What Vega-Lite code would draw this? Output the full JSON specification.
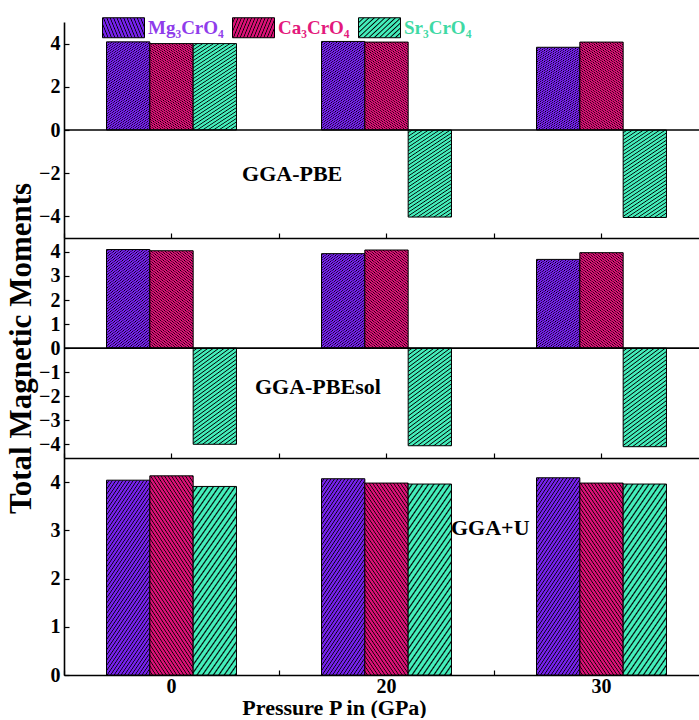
{
  "$schema": "https://vega.github.io/schema/vega-lite/v6.json",
  "background": "white",
  "padding": {"left": 5, "top": 6, "right": 0, "bottom": 0},
  "spacing": 0,
  "bounds": "flush",
  "config": {
    "font": "Liberation Serif",
    "view": {"stroke": null},
    "axis": {
      "grid": false,
      "labelFont": "Liberation Serif",
      "labelFontWeight": "bold",
      "labelFontSize": 20,
      "labelColor": "black",
      "labelOverlap": false,
      "titleFont": "Liberation Serif",
      "titleFontWeight": "bold",
      "titleColor": "black",
      "domainColor": "black",
      "domainWidth": 1.6,
      "tickColor": "black",
      "tickWidth": 1.2,
      "tickSize": -5
    }
  },
  "datasets": {
    "moments": [
      {"method": "GGA-PBE", "pressure": "0", "compound": "Mg3CrO4", "value": 4.08},
      {"method": "GGA-PBE", "pressure": "0", "compound": "Ca3CrO4", "value": 4.0},
      {"method": "GGA-PBE", "pressure": "0", "compound": "Sr3CrO4", "value": 4.0},
      {"method": "GGA-PBE", "pressure": "20", "compound": "Mg3CrO4", "value": 4.1},
      {"method": "GGA-PBE", "pressure": "20", "compound": "Ca3CrO4", "value": 4.07},
      {"method": "GGA-PBE", "pressure": "20", "compound": "Sr3CrO4", "value": -4.03},
      {"method": "GGA-PBE", "pressure": "30", "compound": "Mg3CrO4", "value": 3.83},
      {"method": "GGA-PBE", "pressure": "30", "compound": "Ca3CrO4", "value": 4.07},
      {"method": "GGA-PBE", "pressure": "30", "compound": "Sr3CrO4", "value": -4.05},
      {"method": "GGA-PBEsol", "pressure": "0", "compound": "Mg3CrO4", "value": 4.1},
      {"method": "GGA-PBEsol", "pressure": "0", "compound": "Ca3CrO4", "value": 4.05},
      {"method": "GGA-PBEsol", "pressure": "0", "compound": "Sr3CrO4", "value": -4.0},
      {"method": "GGA-PBEsol", "pressure": "20", "compound": "Mg3CrO4", "value": 3.93},
      {"method": "GGA-PBEsol", "pressure": "20", "compound": "Ca3CrO4", "value": 4.08},
      {"method": "GGA-PBEsol", "pressure": "20", "compound": "Sr3CrO4", "value": -4.06},
      {"method": "GGA-PBEsol", "pressure": "30", "compound": "Mg3CrO4", "value": 3.69},
      {"method": "GGA-PBEsol", "pressure": "30", "compound": "Ca3CrO4", "value": 3.97},
      {"method": "GGA-PBEsol", "pressure": "30", "compound": "Sr3CrO4", "value": -4.1},
      {"method": "GGA+U", "pressure": "0", "compound": "Mg3CrO4", "value": 4.04},
      {"method": "GGA+U", "pressure": "0", "compound": "Ca3CrO4", "value": 4.13},
      {"method": "GGA+U", "pressure": "0", "compound": "Sr3CrO4", "value": 3.91},
      {"method": "GGA+U", "pressure": "20", "compound": "Mg3CrO4", "value": 4.07},
      {"method": "GGA+U", "pressure": "20", "compound": "Ca3CrO4", "value": 3.98},
      {"method": "GGA+U", "pressure": "20", "compound": "Sr3CrO4", "value": 3.96},
      {"method": "GGA+U", "pressure": "30", "compound": "Mg3CrO4", "value": 4.09},
      {"method": "GGA+U", "pressure": "30", "compound": "Ca3CrO4", "value": 3.98},
      {"method": "GGA+U", "pressure": "30", "compound": "Sr3CrO4", "value": 3.96}
    ]
  },
  "vconcat": [
    {
      "width": 645,
      "height": 216,
      "layer": [
        {
          "data": {"name": "moments"},
          "transform": [{"filter": "datum.method === 'GGA-PBE'"}],
          "mark": {"type": "bar", "stroke": "black", "strokeWidth": 1},
          "encoding": {
            "x": {"field": "pressure", "type": "nominal", "scale": {"domain": ["0", "20", "30"], "paddingInner": 0, "paddingOuter": 0}, "axis": {"labels": false, "title": null, "domain": true}},
            "xOffset": {"field": "compound", "type": "nominal", "scale": {"domain": ["Mg3CrO4", "Ca3CrO4", "Sr3CrO4"], "paddingInner": 0, "paddingOuter": 0.981}},
            "y": {"field": "value", "type": "quantitative", "scale": {"domain": [-5, 5], "nice": false}, "axis": {"values": [-4, -2, 0, 2, 4], "title": null, "labelPadding": 9, "labelOverlap": false}},
            "fill": {
              "field": "compound",
              "type": "nominal",
              "scale": {
                "domain": ["Mg3CrO4", "Ca3CrO4", "Sr3CrO4"],
                "range": [
                  {"expr": "{gradient:'linear',x1:0,y1:0,x2:0.3968,y2:1.1995,stops:[{offset:0,color:'#72e'},{offset:0.01,color:'#72e'},{offset:0.015,color:'#000'},{offset:0.02,color:'#72e'},{offset:0.03,color:'#72e'},{offset:0.035,color:'#000'},{offset:0.04,color:'#72e'},{offset:0.05,color:'#72e'},{offset:0.055,color:'#000'},{offset:0.06,color:'#72e'},{offset:0.07,color:'#72e'},{offset:0.075,color:'#000'},{offset:0.08,color:'#72e'},{offset:0.09,color:'#72e'},{offset:0.095,color:'#000'},{offset:0.1,color:'#72e'},{offset:0.11,color:'#72e'},{offset:0.115,color:'#000'},{offset:0.12,color:'#72e'},{offset:0.13,color:'#72e'},{offset:0.135,color:'#000'},{offset:0.14,color:'#72e'},{offset:0.15,color:'#72e'},{offset:0.155,color:'#000'},{offset:0.16,color:'#72e'},{offset:0.17,color:'#72e'},{offset:0.175,color:'#000'},{offset:0.18,color:'#72e'},{offset:0.19,color:'#72e'},{offset:0.195,color:'#000'},{offset:0.2,color:'#72e'},{offset:0.21,color:'#72e'},{offset:0.215,color:'#000'},{offset:0.22,color:'#72e'},{offset:0.23,color:'#72e'},{offset:0.235,color:'#000'},{offset:0.24,color:'#72e'},{offset:0.25,color:'#72e'},{offset:0.255,color:'#000'},{offset:0.26,color:'#72e'},{offset:0.27,color:'#72e'},{offset:0.275,color:'#000'},{offset:0.28,color:'#72e'},{offset:0.29,color:'#72e'},{offset:0.295,color:'#000'},{offset:0.3,color:'#72e'},{offset:0.31,color:'#72e'},{offset:0.315,color:'#000'},{offset:0.32,color:'#72e'},{offset:0.33,color:'#72e'},{offset:0.335,color:'#000'},{offset:0.34,color:'#72e'},{offset:0.35,color:'#72e'},{offset:0.355,color:'#000'},{offset:0.36,color:'#72e'},{offset:0.37,color:'#72e'},{offset:0.375,color:'#000'},{offset:0.38,color:'#72e'},{offset:0.39,color:'#72e'},{offset:0.395,color:'#000'},{offset:0.4,color:'#72e'},{offset:0.41,color:'#72e'},{offset:0.415,color:'#000'},{offset:0.42,color:'#72e'},{offset:0.43,color:'#72e'},{offset:0.435,color:'#000'},{offset:0.44,color:'#72e'},{offset:0.45,color:'#72e'},{offset:0.455,color:'#000'},{offset:0.46,color:'#72e'},{offset:0.47,color:'#72e'},{offset:0.475,color:'#000'},{offset:0.48,color:'#72e'},{offset:0.49,color:'#72e'},{offset:0.495,color:'#000'},{offset:0.5,color:'#72e'},{offset:0.51,color:'#72e'},{offset:0.515,color:'#000'},{offset:0.52,color:'#72e'},{offset:0.53,color:'#72e'},{offset:0.535,color:'#000'},{offset:0.54,color:'#72e'},{offset:0.55,color:'#72e'},{offset:0.555,color:'#000'},{offset:0.56,color:'#72e'},{offset:0.57,color:'#72e'},{offset:0.575,color:'#000'},{offset:0.58,color:'#72e'},{offset:0.59,color:'#72e'},{offset:0.595,color:'#000'},{offset:0.6,color:'#72e'},{offset:0.61,color:'#72e'},{offset:0.615,color:'#000'},{offset:0.62,color:'#72e'},{offset:0.63,color:'#72e'},{offset:0.635,color:'#000'},{offset:0.64,color:'#72e'},{offset:0.65,color:'#72e'},{offset:0.655,color:'#000'},{offset:0.66,color:'#72e'},{offset:0.67,color:'#72e'},{offset:0.675,color:'#000'},{offset:0.68,color:'#72e'},{offset:0.69,color:'#72e'},{offset:0.695,color:'#000'},{offset:0.7,color:'#72e'},{offset:0.71,color:'#72e'},{offset:0.715,color:'#000'},{offset:0.72,color:'#72e'},{offset:0.73,color:'#72e'},{offset:0.735,color:'#000'},{offset:0.74,color:'#72e'},{offset:0.75,color:'#72e'},{offset:0.755,color:'#000'},{offset:0.76,color:'#72e'},{offset:0.77,color:'#72e'},{offset:0.775,color:'#000'},{offset:0.78,color:'#72e'},{offset:0.79,color:'#72e'},{offset:0.795,color:'#000'},{offset:0.8,color:'#72e'},{offset:0.81,color:'#72e'},{offset:0.815,color:'#000'},{offset:0.82,color:'#72e'},{offset:0.83,color:'#72e'},{offset:0.835,color:'#000'},{offset:0.84,color:'#72e'},{offset:0.85,color:'#72e'},{offset:0.855,color:'#000'},{offset:0.86,color:'#72e'},{offset:0.87,color:'#72e'},{offset:0.875,color:'#000'},{offset:0.88,color:'#72e'},{offset:0.89,color:'#72e'},{offset:0.895,color:'#000'},{offset:0.9,color:'#72e'},{offset:0.91,color:'#72e'},{offset:0.915,color:'#000'},{offset:0.92,color:'#72e'},{offset:0.93,color:'#72e'},{offset:0.935,color:'#000'},{offset:0.94,color:'#72e'},{offset:0.95,color:'#72e'},{offset:0.955,color:'#000'},{offset:0.96,color:'#72e'},{offset:0.97,color:'#72e'},{offset:0.975,color:'#000'},{offset:0.98,color:'#72e'},{offset:0.99,color:'#72e'},{offset:0.995,color:'#000'},{offset:1,color:'#72e'}]}"},
                  {"expr": "{gradient:'linear',x1:0,y1:1,x2:0.3968,y2:-0.1995,stops:[{offset:0,color:'#d17'},{offset:0.01,color:'#d17'},{offset:0.015,color:'#000'},{offset:0.02,color:'#d17'},{offset:0.03,color:'#d17'},{offset:0.035,color:'#000'},{offset:0.04,color:'#d17'},{offset:0.05,color:'#d17'},{offset:0.055,color:'#000'},{offset:0.06,color:'#d17'},{offset:0.07,color:'#d17'},{offset:0.075,color:'#000'},{offset:0.08,color:'#d17'},{offset:0.09,color:'#d17'},{offset:0.095,color:'#000'},{offset:0.1,color:'#d17'},{offset:0.11,color:'#d17'},{offset:0.115,color:'#000'},{offset:0.12,color:'#d17'},{offset:0.13,color:'#d17'},{offset:0.135,color:'#000'},{offset:0.14,color:'#d17'},{offset:0.15,color:'#d17'},{offset:0.155,color:'#000'},{offset:0.16,color:'#d17'},{offset:0.17,color:'#d17'},{offset:0.175,color:'#000'},{offset:0.18,color:'#d17'},{offset:0.19,color:'#d17'},{offset:0.195,color:'#000'},{offset:0.2,color:'#d17'},{offset:0.21,color:'#d17'},{offset:0.215,color:'#000'},{offset:0.22,color:'#d17'},{offset:0.23,color:'#d17'},{offset:0.235,color:'#000'},{offset:0.24,color:'#d17'},{offset:0.25,color:'#d17'},{offset:0.255,color:'#000'},{offset:0.26,color:'#d17'},{offset:0.27,color:'#d17'},{offset:0.275,color:'#000'},{offset:0.28,color:'#d17'},{offset:0.29,color:'#d17'},{offset:0.295,color:'#000'},{offset:0.3,color:'#d17'},{offset:0.31,color:'#d17'},{offset:0.315,color:'#000'},{offset:0.32,color:'#d17'},{offset:0.33,color:'#d17'},{offset:0.335,color:'#000'},{offset:0.34,color:'#d17'},{offset:0.35,color:'#d17'},{offset:0.355,color:'#000'},{offset:0.36,color:'#d17'},{offset:0.37,color:'#d17'},{offset:0.375,color:'#000'},{offset:0.38,color:'#d17'},{offset:0.39,color:'#d17'},{offset:0.395,color:'#000'},{offset:0.4,color:'#d17'},{offset:0.41,color:'#d17'},{offset:0.415,color:'#000'},{offset:0.42,color:'#d17'},{offset:0.43,color:'#d17'},{offset:0.435,color:'#000'},{offset:0.44,color:'#d17'},{offset:0.45,color:'#d17'},{offset:0.455,color:'#000'},{offset:0.46,color:'#d17'},{offset:0.47,color:'#d17'},{offset:0.475,color:'#000'},{offset:0.48,color:'#d17'},{offset:0.49,color:'#d17'},{offset:0.495,color:'#000'},{offset:0.5,color:'#d17'},{offset:0.51,color:'#d17'},{offset:0.515,color:'#000'},{offset:0.52,color:'#d17'},{offset:0.53,color:'#d17'},{offset:0.535,color:'#000'},{offset:0.54,color:'#d17'},{offset:0.55,color:'#d17'},{offset:0.555,color:'#000'},{offset:0.56,color:'#d17'},{offset:0.57,color:'#d17'},{offset:0.575,color:'#000'},{offset:0.58,color:'#d17'},{offset:0.59,color:'#d17'},{offset:0.595,color:'#000'},{offset:0.6,color:'#d17'},{offset:0.61,color:'#d17'},{offset:0.615,color:'#000'},{offset:0.62,color:'#d17'},{offset:0.63,color:'#d17'},{offset:0.635,color:'#000'},{offset:0.64,color:'#d17'},{offset:0.65,color:'#d17'},{offset:0.655,color:'#000'},{offset:0.66,color:'#d17'},{offset:0.67,color:'#d17'},{offset:0.675,color:'#000'},{offset:0.68,color:'#d17'},{offset:0.69,color:'#d17'},{offset:0.695,color:'#000'},{offset:0.7,color:'#d17'},{offset:0.71,color:'#d17'},{offset:0.715,color:'#000'},{offset:0.72,color:'#d17'},{offset:0.73,color:'#d17'},{offset:0.735,color:'#000'},{offset:0.74,color:'#d17'},{offset:0.75,color:'#d17'},{offset:0.755,color:'#000'},{offset:0.76,color:'#d17'},{offset:0.77,color:'#d17'},{offset:0.775,color:'#000'},{offset:0.78,color:'#d17'},{offset:0.79,color:'#d17'},{offset:0.795,color:'#000'},{offset:0.8,color:'#d17'},{offset:0.81,color:'#d17'},{offset:0.815,color:'#000'},{offset:0.82,color:'#d17'},{offset:0.83,color:'#d17'},{offset:0.835,color:'#000'},{offset:0.84,color:'#d17'},{offset:0.85,color:'#d17'},{offset:0.855,color:'#000'},{offset:0.86,color:'#d17'},{offset:0.87,color:'#d17'},{offset:0.875,color:'#000'},{offset:0.88,color:'#d17'},{offset:0.89,color:'#d17'},{offset:0.895,color:'#000'},{offset:0.9,color:'#d17'},{offset:0.91,color:'#d17'},{offset:0.915,color:'#000'},{offset:0.92,color:'#d17'},{offset:0.93,color:'#d17'},{offset:0.935,color:'#000'},{offset:0.94,color:'#d17'},{offset:0.95,color:'#d17'},{offset:0.955,color:'#000'},{offset:0.96,color:'#d17'},{offset:0.97,color:'#d17'},{offset:0.975,color:'#000'},{offset:0.98,color:'#d17'},{offset:0.99,color:'#d17'},{offset:0.995,color:'#000'},{offset:1,color:'#d17'}]}"},
                  {"expr": "{gradient:'linear',x1:0,y1:0,x2:0.3968,y2:1.1995,stops:[{offset:0,color:'#4eb'},{offset:0.0156,color:'#4eb'},{offset:0.0234,color:'#000'},{offset:0.0313,color:'#4eb'},{offset:0.0469,color:'#4eb'},{offset:0.0547,color:'#000'},{offset:0.0625,color:'#4eb'},{offset:0.0781,color:'#4eb'},{offset:0.0859,color:'#000'},{offset:0.0938,color:'#4eb'},{offset:0.1094,color:'#4eb'},{offset:0.1172,color:'#000'},{offset:0.125,color:'#4eb'},{offset:0.1406,color:'#4eb'},{offset:0.1484,color:'#000'},{offset:0.1563,color:'#4eb'},{offset:0.1719,color:'#4eb'},{offset:0.1797,color:'#000'},{offset:0.1875,color:'#4eb'},{offset:0.2031,color:'#4eb'},{offset:0.2109,color:'#000'},{offset:0.2188,color:'#4eb'},{offset:0.2344,color:'#4eb'},{offset:0.2422,color:'#000'},{offset:0.25,color:'#4eb'},{offset:0.2656,color:'#4eb'},{offset:0.2734,color:'#000'},{offset:0.2813,color:'#4eb'},{offset:0.2969,color:'#4eb'},{offset:0.3047,color:'#000'},{offset:0.3125,color:'#4eb'},{offset:0.3281,color:'#4eb'},{offset:0.3359,color:'#000'},{offset:0.3438,color:'#4eb'},{offset:0.3594,color:'#4eb'},{offset:0.3672,color:'#000'},{offset:0.375,color:'#4eb'},{offset:0.3906,color:'#4eb'},{offset:0.3984,color:'#000'},{offset:0.4063,color:'#4eb'},{offset:0.4219,color:'#4eb'},{offset:0.4297,color:'#000'},{offset:0.4375,color:'#4eb'},{offset:0.4531,color:'#4eb'},{offset:0.4609,color:'#000'},{offset:0.4688,color:'#4eb'},{offset:0.4844,color:'#4eb'},{offset:0.4922,color:'#000'},{offset:0.5,color:'#4eb'},{offset:0.5156,color:'#4eb'},{offset:0.5234,color:'#000'},{offset:0.5313,color:'#4eb'},{offset:0.5469,color:'#4eb'},{offset:0.5547,color:'#000'},{offset:0.5625,color:'#4eb'},{offset:0.5781,color:'#4eb'},{offset:0.5859,color:'#000'},{offset:0.5938,color:'#4eb'},{offset:0.6094,color:'#4eb'},{offset:0.6172,color:'#000'},{offset:0.625,color:'#4eb'},{offset:0.6406,color:'#4eb'},{offset:0.6484,color:'#000'},{offset:0.6563,color:'#4eb'},{offset:0.6719,color:'#4eb'},{offset:0.6797,color:'#000'},{offset:0.6875,color:'#4eb'},{offset:0.7031,color:'#4eb'},{offset:0.7109,color:'#000'},{offset:0.7188,color:'#4eb'},{offset:0.7344,color:'#4eb'},{offset:0.7422,color:'#000'},{offset:0.75,color:'#4eb'},{offset:0.7656,color:'#4eb'},{offset:0.7734,color:'#000'},{offset:0.7813,color:'#4eb'},{offset:0.7969,color:'#4eb'},{offset:0.8047,color:'#000'},{offset:0.8125,color:'#4eb'},{offset:0.8281,color:'#4eb'},{offset:0.8359,color:'#000'},{offset:0.8438,color:'#4eb'},{offset:0.8594,color:'#4eb'},{offset:0.8672,color:'#000'},{offset:0.875,color:'#4eb'},{offset:0.8906,color:'#4eb'},{offset:0.8984,color:'#000'},{offset:0.9063,color:'#4eb'},{offset:0.9219,color:'#4eb'},{offset:0.9297,color:'#000'},{offset:0.9375,color:'#4eb'},{offset:0.9531,color:'#4eb'},{offset:0.9609,color:'#000'},{offset:0.9688,color:'#4eb'},{offset:0.9844,color:'#4eb'},{offset:0.9922,color:'#000'},{offset:1,color:'#4eb'}]}"}
                ]
              },
              "legend": {
                "orient": "none",
                "legendX": 38,
                "legendY": -16,
                "direction": "horizontal",
                "columns": 3,
                "title": null,
                "padding": 0,
                "symbolType": "M-1,-0.476H1V0.476H-1Z",
                "symbolSize": 1764,
                "symbolStrokeColor": "black",
                "symbolStrokeWidth": 1,
                "labelFont": "Liberation Serif",
                "labelFontWeight": "bold",
                "labelFontSize": 19,
                "labelOffset": 3,
                "columnPadding": 6,
                "labelExpr": "replace(replace(datum.label,'3','₃'),'4','₄')",
                "labelColor": {"expr": "datum.value == 'Mg3CrO4' ? '#8f3ceb' : datum.value == 'Ca3CrO4' ? '#e3197c' : '#3fd9a4'"}
              }
            }
          }
        },
        {
          "data": {"values": [{}]},
          "mark": {"type": "rule", "color": "black", "strokeWidth": 1.6},
          "encoding": {"y": {"datum": 0, "type": "quantitative", "axis": {"values": [-4, -2, 0, 2, 4], "title": null, "labelPadding": 9, "labelOverlap": false}}}
        },
        {
          "data": {"values": [{}]},
          "mark": {"type": "text", "text": "GGA-PBE", "align": "left", "baseline": "middle", "font": "Liberation Serif", "fontWeight": "bold", "fontSize": 22, "color": "black"},
          "encoding": {
            "x": {"datum": "0", "bandPosition": 0.828, "axis": {"orient": "bottom", "tickBand": "extent", "labels": false, "domain": false, "title": null}},
            "y": {"datum": -2.05, "type": "quantitative", "axis": {"values": [-4, -2, 0, 2, 4], "title": null, "labelPadding": 9, "labelOverlap": false}}
          }
        }
      ],
      "resolve": {"axis": {"x": "independent"}}
    },
    {
      "width": 645,
      "height": 220,
      "layer": [
        {
          "data": {"name": "moments"},
          "transform": [{"filter": "datum.method === 'GGA-PBEsol'"}],
          "mark": {"type": "bar", "stroke": "black", "strokeWidth": 1},
          "encoding": {
            "x": {"field": "pressure", "type": "nominal", "scale": {"domain": ["0", "20", "30"], "paddingInner": 0, "paddingOuter": 0}, "axis": {"labels": false, "title": null, "domain": true}},
            "xOffset": {"field": "compound", "type": "nominal", "scale": {"domain": ["Mg3CrO4", "Ca3CrO4", "Sr3CrO4"], "paddingInner": 0, "paddingOuter": 0.981}},
            "y": {"field": "value", "type": "quantitative", "scale": {"domain": [-4.57, 4.58], "nice": false}, "axis": {"values": [-4, -3, -2, -1, 0, 1, 2, 3, 4], "title": "Total Magnetic Moments", "titleFontSize": 31, "titlePadding": 1, "labelPadding": 9, "labelOverlap": false}},
            "fill": {"field": "compound", "type": "nominal"}
          }
        },
        {
          "data": {"values": [{}]},
          "mark": {"type": "rule", "color": "black", "strokeWidth": 1.6},
          "encoding": {"y": {"datum": 0, "type": "quantitative", "axis": {"values": [-4, -3, -2, -1, 0, 1, 2, 3, 4], "title": "Total Magnetic Moments", "titleFontSize": 31, "titlePadding": 1, "labelPadding": 9, "labelOverlap": false}}}
        },
        {
          "data": {"values": [{}]},
          "mark": {"type": "text", "text": "GGA-PBEsol", "align": "left", "baseline": "middle", "font": "Liberation Serif", "fontWeight": "bold", "fontSize": 22, "color": "black"},
          "encoding": {
            "x": {"datum": "0", "bandPosition": 0.888, "axis": {"orient": "bottom", "tickBand": "extent", "labels": false, "domain": false, "title": null}},
            "y": {"datum": -1.63, "type": "quantitative", "axis": {"values": [-4, -3, -2, -1, 0, 1, 2, 3, 4], "title": "Total Magnetic Moments", "titleFontSize": 31, "titlePadding": 1, "labelPadding": 9, "labelOverlap": false}}
          }
        }
      ],
      "resolve": {"axis": {"x": "independent"}}
    },
    {
      "width": 645,
      "height": 217,
      "layer": [
        {
          "data": {"name": "moments"},
          "transform": [{"filter": "datum.method === 'GGA+U'"}],
          "mark": {"type": "bar", "stroke": "black", "strokeWidth": 1},
          "encoding": {
            "x": {"field": "pressure", "type": "nominal", "scale": {"domain": ["0", "20", "30"], "paddingInner": 0, "paddingOuter": 0}, "axis": {"labels": true, "labelAngle": 0, "labelBaseline": "alphabetic", "labelPadding": 22, "title": "Pressure P in (GPa)", "titleFontSize": 22, "titleX": 270, "titleY": 39, "titleBaseline": "alphabetic"}},
            "xOffset": {"field": "compound", "type": "nominal", "scale": {"domain": ["Mg3CrO4", "Ca3CrO4", "Sr3CrO4"], "paddingInner": 0, "paddingOuter": 0.981}},
            "y": {"field": "value", "type": "quantitative", "scale": {"domain": [0, 4.5], "nice": false}, "axis": {"values": [0, 1, 2, 3, 4], "title": null, "labelPadding": 9, "labelOverlap": false}},
            "fill": {"field": "compound", "type": "nominal"}
          }
        },
        {
          "data": {"values": [{}]},
          "mark": {"type": "text", "text": "GGA+U", "align": "left", "baseline": "middle", "font": "Liberation Serif", "fontWeight": "bold", "fontSize": 22, "color": "black"},
          "encoding": {
            "x": {"datum": "20", "bandPosition": 0.8, "axis": {"orient": "bottom", "tickBand": "extent", "labels": false, "domain": false, "title": null}},
            "y": {"datum": 3.04, "type": "quantitative", "axis": {"values": [0, 1, 2, 3, 4], "title": null, "labelPadding": 9, "labelOverlap": false}}
          }
        }
      ],
      "resolve": {"axis": {"x": "independent"}}
    }
  ]
}
